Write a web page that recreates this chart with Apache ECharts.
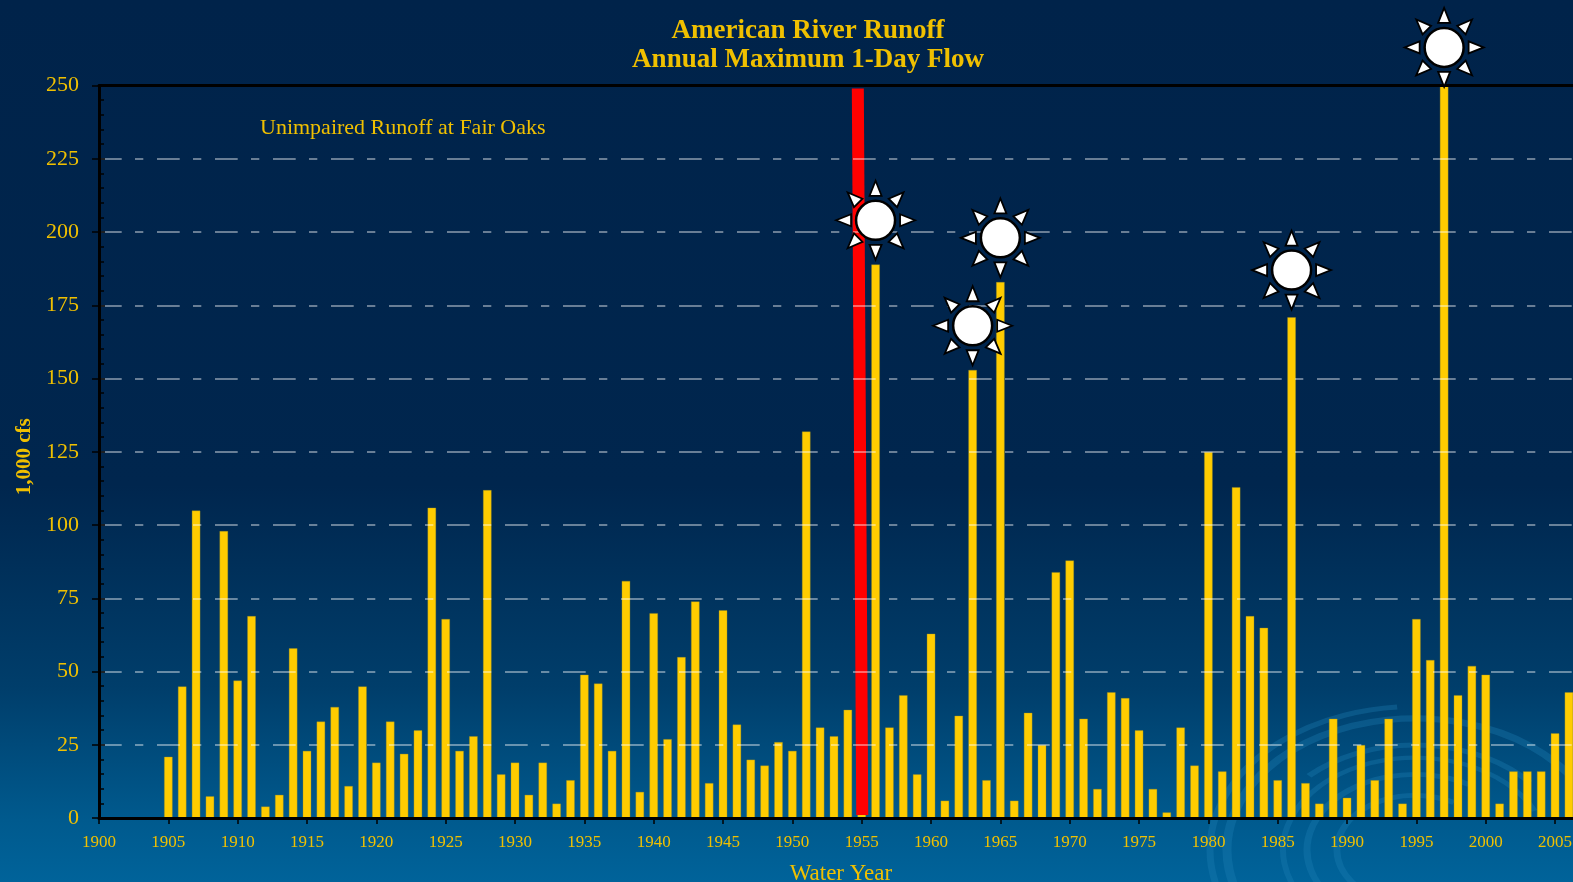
<!DOCTYPE html>
<html>
<head>
<meta charset="utf-8">
<title>American River Runoff</title>
<style>
  html, body { margin: 0; height: 100%; overflow: hidden; }
  #chart { width: 1573px; height: 882px; }
</style>
<script src="https://cdn.jsdelivr.net/npm/echarts@6/dist/echarts.min.js"></script>
</head>
<body>
<div id="chart"></div>
<script>
const years = [
  1905, 1906, 1907, 1908, 1909, 1910, 1911, 1912, 1913, 1914,
  1915, 1916, 1917, 1918, 1919, 1920, 1921, 1922, 1923, 1924,
  1925, 1926, 1927, 1928, 1929, 1930, 1931, 1932, 1933, 1934,
  1935, 1936, 1937, 1938, 1939, 1940, 1941, 1942, 1943, 1944,
  1945, 1946, 1947, 1948, 1949, 1950, 1951, 1952, 1953, 1954,
  1955, 1956, 1957, 1958, 1959, 1960, 1961, 1962, 1963, 1964,
  1965, 1966, 1967, 1968, 1969, 1970, 1971, 1972, 1973, 1974,
  1975, 1976, 1977, 1978, 1979, 1980, 1981, 1982, 1983, 1984,
  1985, 1986, 1987, 1988, 1989, 1990, 1991, 1992, 1993, 1994,
  1995, 1996, 1997, 1998, 1999, 2000, 2001, 2002, 2003, 2004,
  2005, 2006
]
const flows = [
  21, 45, 105, 7.5, 98, 47, 69, 4, 8, 58,
  23, 33, 38, 11, 45, 19, 33, 22, 30, 106,
  68, 23, 28, 112, 15, 19, 8, 19, 5, 13,
  49, 46, 23, 81, 9, 70, 27, 55, 74, 12,
  71, 32, 20, 18, 26, 23, 132, 31, 28, 37,
  5, 189, 31, 42, 15, 63, 6, 35, 153, 13,
  183, 6, 36, 25, 84, 88, 34, 10, 43, 41,
  30, 10, 2, 31, 18, 125, 16, 113, 69, 65,
  13, 171, 12, 5, 34, 7, 25, 13, 34, 5,
  68, 54, 250, 42, 52, 49, 5, 16, 16, 16,
  29, 43
]
// the red marker is hand drawn in the original, it leans a little
const redLineYears = [1954.72, 1955.04]
const redLineValues = [249, 1]
const sunYears = [1956, 1963, 1965, 1986, 1997]
const sunValues = [204, 168, 198, 187, 263]

const gold = '#f0c000'
const serif = '"Liberation Serif", "Times New Roman", serif'

function zip (xs, ys) {
  return xs.map((x, i) => [x, ys[i]])
}

// one sun: white disc with eight triangles round it
function renderSun (params, api) {
  const [cx, cy] = api.coord([api.value(0), api.value(1)])
  const children = []
  for (let i = 0; i < 8; i++) {
    children.push({
      type: 'polygon',
      x: cx,
      y: cy,
      rotation: i * Math.PI / 4,
      shape: { points: [[0, -39.5], [-6, -24.5], [6, -24.5]] },
      style: { fill: '#fff', stroke: '#000', lineWidth: 1.8 }
    })
  }
  children.push({
    type: 'circle',
    shape: { cx, cy, r: 19.5 },
    style: { fill: '#fff', stroke: '#000', lineWidth: 2.5 }
  })
  return { type: 'group', children }
}

// background ripple, only decoration
function ripple (r, from, to, width) {
  return {
    type: 'arc',
    x: 1415,
    y: 850,
    scaleY: 0.7,
    z: -1,
    silent: true,
    shape: { r, startAngle: from * Math.PI / 180, endAngle: to * Math.PI / 180 },
    style: { fill: 'none', stroke: 'rgba(30,130,185,0.32)', lineWidth: width }
  }
}

const myChart = echarts.init(document.getElementById('chart'))
myChart.setOption({
  animation: false,
  backgroundColor: {
    type: 'linear',
    x: 0, y: 0, x2: 0, y2: 1,
    colorStops: [
      { offset: 0, color: '#00234a' },
      { offset: 0.55, color: '#00264e' },
      { offset: 0.78, color: '#003e6b' },
      { offset: 0.93, color: '#005a8e' },
      { offset: 1, color: '#00639a' }
    ]
  },
  title: [
    {
      text: 'American River Runoff\nAnnual Maximum 1-Day Flow',
      left: 803,
      top: 11,
      textAlign: 'center',
      textStyle: { color: gold, fontFamily: serif, fontSize: 27, fontWeight: 'bold', lineHeight: 29.5 }
    },
    {
      text: 'Unimpaired Runoff at Fair Oaks',
      left: 255,
      top: 112,
      textStyle: { color: gold, fontFamily: serif, fontSize: 22, fontWeight: 'normal' }
    }
  ],
  graphic: [
    ripple(205, 160, 265, 7),
    ripple(188, 150, 345, 9),
    ripple(150, 225, 320, 7),
    ripple(132, 150, 335, 6),
    ripple(108, 120, 300, 7),
    ripple(78, 100, 300, 7),
    ripple(165, 30, 150, 7),
    ripple(240, 95, 150, 8)
  ],
  grid: { left: 99, top: 85.5, width: 1483.8, height: 732.5, outerBoundsMode: 'none' },
  xAxis: [
    {
      type: 'value',
      min: 1900,
      max: 2007,
      interval: 5,
      z: 5,
      name: 'Water Year',
      nameLocation: 'middle',
      nameGap: 44,
      nameTextStyle: { color: gold, fontFamily: serif, fontSize: 23 },
      axisLine: { show: true, onZero: false, lineStyle: { color: '#000', width: 3 } },
      axisTick: { show: true, length: 6, lineStyle: { color: '#000', width: 1.5 } },
      axisLabel: {
        color: gold,
        fontFamily: serif,
        fontSize: 17,
        margin: 16,
        showMaxLabel: false,
        formatter: v => String(v)
      },
      splitLine: { show: false }
    },
    {
      type: 'value',
      position: 'top',
      min: 1900,
      max: 2007,
      z: 5,
      axisLine: { show: true, onZero: false, lineStyle: { color: '#000', width: 3 } },
      axisTick: { show: false },
      axisLabel: { show: false },
      splitLine: { show: false }
    }
  ],
  yAxis: [
    {
      type: 'value',
      min: 0,
      max: 250,
      interval: 25,
      z: 5,
      name: '1,000 cfs',
      nameLocation: 'middle',
      nameGap: 60,
      nameRotate: 90,
      nameTextStyle: { color: gold, fontFamily: serif, fontSize: 21, fontWeight: 'bold', padding: [0, 10, 0, 0] },
      axisLine: { show: true, lineStyle: { color: '#000', width: 3 } },
      axisTick: { show: true, length: 7, lineStyle: { color: '#000', width: 1.5 } },
      axisLabel: { color: gold, fontFamily: serif, fontSize: 22, margin: 20 },
      splitLine: {
        show: true,
        showMinLine: false,
        showMaxLine: false,
        lineStyle: { color: 'rgba(255,255,255,0.55)', width: 1.5, type: [22.7, 13.3, 8.3, 13.7] }
      }
    },
    {
      // second copy of the axis, only for the ticks pointing inward
      type: 'value',
      position: 'left',
      min: 0,
      max: 250,
      interval: 25,
      z: 5,
      axisLine: { show: false },
      axisTick: { show: true, inside: true, length: 6, lineStyle: { color: '#000', width: 1.5 } },
      minorTick: { show: true, splitNumber: 5, length: 5, lineStyle: { color: '#000', width: 1.5 } },
      axisLabel: { show: false },
      splitLine: { show: false }
    }
  ],
  series: [
    {
      name: 'Annual maximum 1-day flow',
      type: 'bar',
      barWidth: 9,
      z: 2,
      itemStyle: { color: '#ffcc00', borderColor: 'rgba(150,140,40,0.35)', borderWidth: 1 },
      data: zip(years, flows)
    },
    {
      name: 'Marker',
      type: 'line',
      z: 3,
      symbol: 'none',
      lineStyle: { color: '#ff0000', width: 12, cap: 'butt' },
      data: zip(redLineYears, redLineValues)
    },
    {
      name: 'Suns',
      type: 'custom',
      z: 6,
      clip: false,
      renderItem: renderSun,
      data: zip(sunYears, sunValues)
    }
  ]
})
</script>
</body>
</html>
